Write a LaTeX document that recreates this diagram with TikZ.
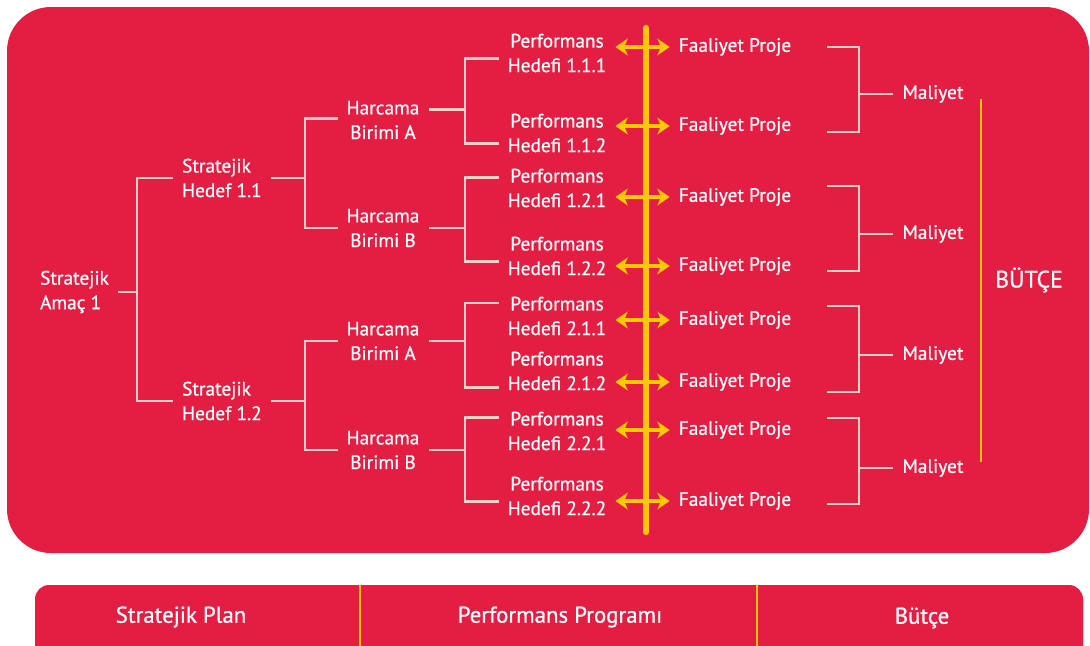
\documentclass[tikz,border=0pt]{standalone}
\usepackage{fontspec}
\setmainfont{PT Sans}[FakeBold=0.8]
\usepackage{xcolor}
\usetikzlibrary{arrows.meta,positioning,calc}
\definecolor{planred}{HTML}{E31E42}
\definecolor{linkpink}{HTML}{F7CFC6}
\definecolor{budgetyellow}{HTML}{FFC800}

\begin{document}
\begin{tikzpicture}[
    x=0.02cm, y=-0.02cm,
    txt/.style={
        text=white,
        font=\fontsize{11}{14}\selectfont,
        inner sep=5pt
    },
    leftbox/.style={txt, align=left, anchor=west},
    midbox/.style={txt, align=center},
    link/.style={draw=linkpink, line width=1.7pt},
    flow/.style={
        draw=budgetyellow, line width=2.6pt,
        {Stealth[length=7pt,width=9.5pt,inset=2pt]}-{Stealth[length=7pt,width=9.5pt,inset=2pt]}
    },
    spine/.style={draw=budgetyellow, line width=3.6pt, line cap=round},
    budget/.style={draw=budgetyellow, line width=1.4pt},
    barlabel/.style={text=white, font=\fontsize{13}{15}\selectfont}
]

\useasboundingbox (0,0) rectangle (1090,646);
\clip (0,0) rectangle (1090,646);

% Panels
\fill[planred, rounded corners=25pt] (7,7) rectangle (1089,553);
\fill[planred, rounded corners=8pt] (35,680) -- (35,585) -- (1083,585) -- (1083,680) -- cycle;
\draw[budget] (360,585) -- (360,646);
\draw[budget] (757,585) -- (757,646);

% Bottom bar labels
\node[barlabel] (sp) at (181,617) {Stratejik Plan};
\node[barlabel] (pp) at (560,617) {Performans Programı};
\node[barlabel] (bt) at (922,618) {Bütçe};

% Strategic goal
\node[leftbox] (amac) at (31,292) {Stratejik\\Amaç 1};

% Strategic targets
\node[leftbox] (hedef11) at (173,178) {Stratejik\\Hedef 1.1};
\node[leftbox] (hedef12) at (173,401) {Stratejik\\Hedef 1.2};

% Spending units
\node[midbox] (harcA1) at (383,120) {Harcama\\Birimi A};
\node[midbox] (harcB1) at (383,228) {Harcama\\Birimi B};
\node[midbox] (harcA2) at (383,341) {Harcama\\Birimi A};
\node[midbox] (harcB2) at (383,450) {Harcama\\Birimi B};

% Performance targets
\node[midbox] (perf111) at (557,53) {Performans\\Hedefi 1.1.1};
\node[midbox] (perf112) at (557,133) {Performans\\Hedefi 1.1.2};
\node[midbox] (perf121) at (557,188) {Performans\\Hedefi 1.2.1};
\node[midbox] (perf122) at (557,256) {Performans\\Hedefi 1.2.2};
\node[midbox] (perf211) at (557,316) {Performans\\Hedefi 2.1.1};
\node[midbox] (perf212) at (557,371) {Performans\\Hedefi 2.1.2};
\node[midbox] (perf221) at (557,431) {Performans\\Hedefi 2.2.1};
\node[midbox] (perf222) at (557,496) {Performans\\Hedefi 2.2.2};

% Activities
\node[midbox] (fp1) at (735,47) {Faaliyet Proje};
\node[midbox] (fp2) at (735,126) {Faaliyet Proje};
\node[midbox] (fp3) at (735,197) {Faaliyet Proje};
\node[midbox] (fp4) at (735,266) {Faaliyet Proje};
\node[midbox] (fp5) at (735,320) {Faaliyet Proje};
\node[midbox] (fp6) at (735,382) {Faaliyet Proje};
\node[midbox] (fp7) at (735,430) {Faaliyet Proje};
\node[midbox] (fp8) at (735,501) {Faaliyet Proje};

% Costs
\node[midbox] (mal1) at (933,94) {Maliyet};
\node[midbox] (mal2) at (933,234) {Maliyet};
\node[midbox] (mal3) at (933,355) {Maliyet};
\node[midbox] (mal4) at (933,468) {Maliyet};

% Budget
\node[txt, font=\fontsize{13.5}{15}\selectfont] (butce) at (1029,280) {BÜTÇE};

% Junctions
\coordinate (j0) at (137,291);
\coordinate (j1) at (305,175);
\coordinate (j2) at (305,400);
\coordinate (j11) at (465,110);
\coordinate (j12) at (465,228);
\coordinate (j21) at (465,341);
\coordinate (j22) at (465,450);
\coordinate (spinetop) at (646,28);
\coordinate (spinebot) at (646,532);
\coordinate (budtop) at (981,99);
\coordinate (budbot) at (981,462);

% Cost bracket ends
\coordinate (k1a) at (827,47);  \coordinate (k1) at (859,94);  \coordinate (k1b) at (827,132);
\coordinate (k2a) at (827,186); \coordinate (k2) at (859,234); \coordinate (k2b) at (827,271);
\coordinate (k3a) at (827,306); \coordinate (k3) at (859,355); \coordinate (k3b) at (827,392);
\coordinate (k4a) at (827,418); \coordinate (k4) at (859,468); \coordinate (k4b) at (827,504);

% Tree links
\draw[link] (amac.east) -- (amac.east -| j0);
\draw[link] (hedef11.west) -| (j0) |- (hedef12.west);

\draw[link] (hedef11.east) -- (hedef11.east -| j1);
\draw[link] ([yshift=1pt]harcA1.west) -| (j1) |- (harcB1.west);
\draw[link] (hedef12.east) -- (hedef12.east -| j2);
\draw[link] (harcA2.west) -| (j2) |- (harcB2.west);

\draw[link] ([yshift=5.7pt]harcA1.east) -- ++(36,0);
\draw[link] ([yshift=-3.4pt]perf111.west) -| (j11) |- ([yshift=-6.2pt]perf112.west);
\draw[link] (harcB1.east) -- (harcB1.east -| j12);
\draw[link] ([yshift=6.2pt]perf121.west) -| (j12) |- ([yshift=-3.4pt]perf122.west);
\draw[link] (harcA2.east) -- (harcA2.east -| j21);
\draw[link] ([yshift=7.4pt]perf211.west) -| (j21) |- ([yshift=-9.6pt]perf212.west);
\draw[link] (harcB2.east) -- (harcB2.east -| j22);
\draw[link] ([yshift=7.9pt]perf221.west) -| (j22) |- ([yshift=-3.4pt]perf222.west);

% Program spine and arrows
\draw[spine] (spinetop) -- (spinebot);
\draw[flow] (fp1.west -| perf111.east) -- (fp1.west);
\draw[flow] (fp2.west -| perf112.east) -- (fp2.west);
\draw[flow] (fp3.west -| perf121.east) -- (fp3.west);
\draw[flow] (fp4.west -| perf122.east) -- (fp4.west);
\draw[flow] (fp5.west -| perf211.east) -- (fp5.west);
\draw[flow] (fp6.west -| perf212.east) -- (fp6.west);
\draw[flow] (fp7.west -| perf221.east) -- (fp7.west);
\draw[flow] (fp8.west -| perf222.east) -- (fp8.west);

% Cost brackets
\draw[link] (k1a) -| (k1) |- (k1b);
\draw[link] (k1) -- (mal1.west);
\draw[link] (k2a) -| (k2) |- (k2b);
\draw[link] (k2) -- (mal2.west);
\draw[link] (k3a) -| (k3) |- (k3b);
\draw[link] (k3) -- (mal3.west);
\draw[link] (k4a) -| (k4) |- (k4b);
\draw[link] (k4) -- (mal4.west);

% Budget line
\draw[budget] (budtop) -- (budbot);

\end{tikzpicture}
\end{document}
